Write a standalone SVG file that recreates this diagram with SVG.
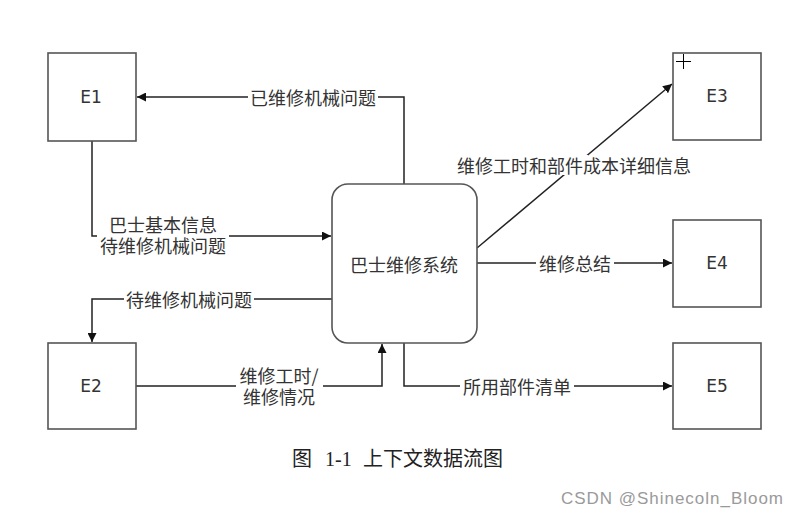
<svg xmlns="http://www.w3.org/2000/svg" width="799" height="515" viewBox="0 0 799 515">
<style>
.box{fill:#fff;stroke:#555;stroke-width:1.6}
.ent{font-family:"DejaVu Sans",sans-serif;font-size:17px;fill:#333;text-anchor:middle;dominant-baseline:central}
.lbl{font-family:"Noto Sans CJK SC",sans-serif;font-size:18px;fill:#333;text-anchor:middle;dominant-baseline:central}
.ln{fill:none;stroke:#222;stroke-width:1.5}
.bg{fill:#fff}
</style>
<defs>
<marker id="ah" viewBox="0 0 10 10" refX="10" refY="5" markerWidth="9" markerHeight="9" markerUnits="userSpaceOnUse" orient="auto">
<path d="M0,0 L10,5 L0,10 z" fill="#111"/>
</marker>
</defs>
<rect width="799" height="515" fill="#fff"/>
<g id="connectors">
<polyline class="ln" points="404,184 404,97 137,97" marker-end="url(#ah)"/>
<polyline class="ln" points="92,141 92,236 331,236" marker-end="url(#ah)"/>
<line class="ln" x1="477" y1="248" x2="672" y2="84" marker-end="url(#ah)"/>
<line class="ln" x1="477" y1="263" x2="672" y2="263" marker-end="url(#ah)"/>
<polyline class="ln" points="332,299 92,299 92,342" marker-end="url(#ah)"/>
<polyline class="ln" points="136,386 382,386 382,344" marker-end="url(#ah)"/>
<polyline class="ln" points="404,343 404,386 672,386" marker-end="url(#ah)"/>
<rect class="bg" x="248" y="88" width="130" height="18"/>
<text class="lbl" x="313" y="97">已维修机械问题</text>
<rect class="bg" x="97" y="213" width="132" height="42"/>
<text class="lbl"><tspan x="163" y="224">巴士基本信息</tspan><tspan x="163" y="245">待维修机械问题</tspan></text>
<rect class="bg" x="530" y="155" width="58" height="20"/>
<text class="lbl" x="574" y="165">维修工时和部件成本详细信息</text>
<rect class="bg" x="536" y="254" width="78" height="18"/>
<text class="lbl" x="575" y="263">维修总结</text>
<rect class="bg" x="124" y="290" width="130" height="18"/>
<text class="lbl" x="189" y="299">待维修机械问题</text>
<rect class="bg" x="236" y="364" width="87" height="42"/>
<text class="lbl"><tspan x="279" y="375">维修工时/</tspan><tspan x="279" y="396">维修情况</tspan></text>
<rect class="bg" x="460" y="377" width="114" height="18"/>
<text class="lbl" x="517" y="386">所用部件清单</text>
</g>
<g id="E1"><rect class="box" x="48" y="53" width="88" height="88"/><text class="ent" x="91" y="97">E1</text></g>
<g id="E2"><rect class="box" x="48" y="343" width="88" height="86"/><text class="ent" x="91" y="386">E2</text></g>
<g id="E3"><rect class="box" x="673" y="53" width="88" height="87"/><text class="ent" x="717" y="96">E3</text></g>
<g id="E4"><rect class="box" x="673" y="220" width="88" height="87"/><text class="ent" x="717" y="263">E4</text></g>
<g id="E5"><rect class="box" x="673" y="343" width="88" height="86"/><text class="ent" x="717" y="386">E5</text></g>
<g id="system"><rect class="box" x="332" y="184" width="145" height="159" rx="16"/><text class="lbl" x="404" y="264">巴士维修系统</text></g>
<g id="cursor" stroke="#000" stroke-width="1"><line x1="676" y1="61.5" x2="691" y2="61.5"/><line x1="683.5" y1="54" x2="683.5" y2="69"/></g>
<text font-family="Noto Sans CJK SC,sans-serif" font-size="20" fill="#222" y="466"><tspan x="292">图</tspan><tspan x="325" font-family="Liberation Serif,serif">1-1</tspan><tspan x="363">上下文数据流图</tspan></text>
<text font-family="Liberation Sans,sans-serif" font-size="17" fill="#9a9a9a" x="561" y="504" textLength="222">CSDN @Shinecoln_Bloom</text>
</svg>
